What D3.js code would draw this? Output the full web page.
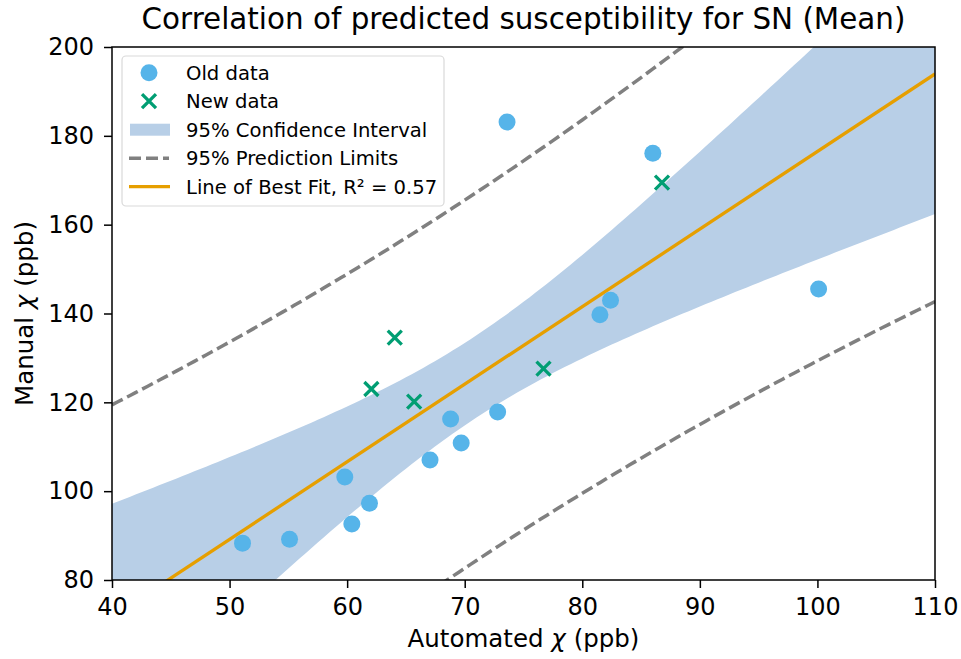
<!DOCTYPE html>
<html>
<head>
<meta charset="utf-8">
<script src="https://cdn.jsdelivr.net/npm/d3@7"></script>
<style>
  html, body { margin: 0; padding: 0; background: #fff; }
  svg { display: block; font-family: "DejaVu Sans", sans-serif; }
</style>
</head>
<body>
<svg id="chart" width="961" height="659"></svg>
<script>
// Automated vs manual susceptibility (ppb), previous cohort
const oldAuto   = [51.1, 55.1, 59.8, 60.4, 61.9, 67.05, 68.8, 69.7, 72.8, 73.6, 81.5, 82.4, 86.0, 100.1];
const oldManual = [88.3, 89.2, 103.2, 92.6, 97.3, 107.0, 116.25, 110.85, 117.8, 183.1, 139.7, 143.0, 176.1, 145.5];
// Newly added cases
const newAuto   = [64.05, 62.06, 65.7, 76.7, 86.78];
const newManual = [134.55, 123.0, 120.15, 127.6, 169.45];

const xTicks = [40, 50, 60, 70, 80, 90, 100, 110];
const yTicks = [80, 100, 120, 140, 160, 180, 200];
const tCrit = 2.110; // two-sided 95% t quantile, df = n - 2 = 17

const W = 961, H = 659;
const m = { left: 112, right: W - 935, top: 47, bottom: H - 580 };
const pw = W - m.left - m.right, ph = H - m.top - m.bottom;

const svg = d3.select("#chart");
const x = d3.scaleLinear().domain([40, 110]).range([m.left, m.left + pw]);
const y = d3.scaleLinear().domain([80, 200]).range([m.top + ph, m.top]);

// Ordinary least squares on all cases
const xs = oldAuto.concat(newAuto), ys = oldManual.concat(newManual);
const n = xs.length;
const mx = d3.mean(xs), my = d3.mean(ys);
const sxx = d3.sum(xs, v => (v - mx) ** 2);
const sxy = d3.sum(xs.map((v, i) => (v - mx) * (ys[i] - my)));
const syy = d3.sum(ys, v => (v - my) ** 2);
const slope = sxy / sxx, intercept = my - slope * mx;
const sse = d3.sum(xs.map((v, i) => (ys[i] - (intercept + slope * v)) ** 2));
const r2 = 1 - sse / syy;
const s = Math.sqrt(sse / (n - 2));

const grid = d3.range(40, 110.001, 0.5);
const fit = v => intercept + slope * v;
const ciHalf = v => tCrit * s * Math.sqrt(1 / n + (v - mx) ** 2 / sxx);
const piHalf = v => tCrit * s * Math.sqrt(1 + 1 / n + (v - mx) ** 2 / sxx);

svg.append("defs").append("clipPath").attr("id", "plotClip")
  .append("rect").attr("x", m.left).attr("y", m.top).attr("width", pw).attr("height", ph);

const plot = svg.append("g").attr("clip-path", "url(#plotClip)");

// Confidence band
plot.append("path")
  .datum(grid)
  .attr("fill", "#b8cfe7")
  .attr("d", d3.area().x(d => x(d)).y0(d => y(fit(d) - ciHalf(d))).y1(d => y(fit(d) + ciHalf(d))));

// Prediction limits
const dashLine = (fn) => plot.append("path")
  .datum(grid)
  .attr("fill", "none")
  .attr("stroke", "#808080")
  .attr("stroke-width", 3.5)
  .attr("stroke-dasharray", "12,5")
  .attr("d", d3.line().x(d => x(d)).y(d => y(fn(d))));
dashLine(d => fit(d) + piHalf(d));
dashLine(d => fit(d) - piHalf(d));

// Best-fit line
plot.append("path")
  .datum([40, 110])
  .attr("fill", "none")
  .attr("stroke", "#E69F00")
  .attr("stroke-width", 3.3)
  .attr("d", d3.line().x(d => x(d)).y(d => y(fit(d))));

// Previous cohort
plot.selectAll("circle.old").data(oldAuto).join("circle")
  .attr("class", "old")
  .attr("cx", d => x(d))
  .attr("cy", (d, i) => y(oldManual[i]))
  .attr("r", 8.5)
  .attr("fill", "#56B4E9");

// New cases as crosses
const cross = (g, cx, cy, h) => g.append("path")
  .attr("d", `M${cx - h},${cy - h}L${cx + h},${cy + h}M${cx - h},${cy + h}L${cx + h},${cy - h}`)
  .attr("stroke", "#009E73").attr("stroke-width", 3.3).attr("fill", "none");
newAuto.forEach((d, i) => cross(plot, x(d), y(newManual[i]), 7));

// Axes
const xAxis = svg.append("g").attr("transform", `translate(0,${m.top + ph})`)
  .call(d3.axisBottom(x).tickValues(xTicks).tickSize(8).tickPadding(10).tickFormat(d3.format("d")));
const yAxis = svg.append("g").attr("transform", `translate(${m.left},0)`)
  .call(d3.axisLeft(y).tickValues(yTicks).tickSize(8).tickPadding(10).tickFormat(d3.format("d")));
[xAxis, yAxis].forEach(a => {
  a.select(".domain").remove();
  a.selectAll("line").attr("stroke", "#000").attr("stroke-width", 1.5);
  a.selectAll("text").attr("font-size", 24).attr("fill", "#000")
    .attr("font-family", "DejaVu Sans, sans-serif");
});

// Frame
svg.append("rect").attr("x", m.left).attr("y", m.top).attr("width", pw).attr("height", ph)
  .attr("fill", "none").attr("stroke", "#000").attr("stroke-width", 1.5);

// Title and axis labels
svg.append("text").attr("x", m.left + pw / 2).attr("y", 29)
  .attr("text-anchor", "middle").attr("font-size", 29.4)
  .text("Correlation of predicted susceptibility for SN (Mean)");

const xl = svg.append("text").attr("x", m.left + pw / 2).attr("y", 647)
  .attr("text-anchor", "middle").attr("font-size", 24.5);
xl.append("tspan").text("Automated ");
xl.append("tspan").attr("font-style", "italic").text("χ");
xl.append("tspan").text(" (ppb)");

const yl = svg.append("text").attr("transform", `translate(33,${m.top + ph / 2}) rotate(-90)`)
  .attr("text-anchor", "middle").attr("font-size", 24.5);
yl.append("tspan").text("Manual ");
yl.append("tspan").attr("font-style", "italic").text("χ");
yl.append("tspan").text(" (ppb)");

// Legend
const lg = svg.append("g");
lg.append("rect").attr("x", 122).attr("y", 56).attr("width", 322).attr("height", 150)
  .attr("rx", 4).attr("fill", "#fff").attr("fill-opacity", 0.8)
  .attr("stroke", "#d9d9d9").attr("stroke-width", 1.2);
const rows = [
  "Old data", "New data", "95% Confidence Interval", "95% Prediction Limits",
  `Line of Best Fit, R² = ${r2.toFixed(2)}`
];
const ry = i => 72.7 + i * 28.5;
const sx = 149;
lg.append("circle").attr("cx", sx).attr("cy", ry(0)).attr("r", 8.5).attr("fill", "#56B4E9");
cross(lg, sx, ry(1), 7);
lg.append("rect").attr("x", 130).attr("y", ry(2) - 6).attr("width", 40).attr("height", 12).attr("fill", "#b8cfe7");
lg.append("line").attr("x1", 129).attr("x2", 169).attr("y1", ry(3)).attr("y2", ry(3))
  .attr("stroke", "#808080").attr("stroke-width", 3.5).attr("stroke-dasharray", "12,5");
lg.append("line").attr("x1", 129).attr("x2", 170).attr("y1", ry(4)).attr("y2", ry(4))
  .attr("stroke", "#E69F00").attr("stroke-width", 3.3);
rows.forEach((t, i) => lg.append("text").attr("x", 186).attr("y", ry(i)).attr("dy", "0.35em")
  .attr("font-size", 19.6).text(t));
</script>
</body>
</html>
